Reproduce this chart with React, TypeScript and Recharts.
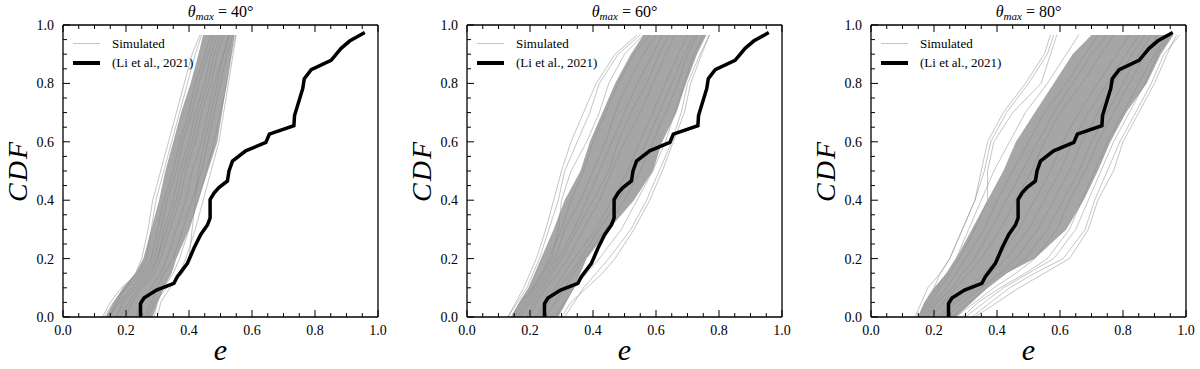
import React from "react";
import { ComposedChart, Line, Area, XAxis, YAxis } from "recharts";

// shared CDF levels at which the simulated curves are sampled
const CDF_LEVELS = [0, 0.05, 0.1, 0.15, 0.2, 0.3, 0.4, 0.5, 0.6, 0.7, 0.8, 0.9, 0.966];
const TICKS = [0, 0.05, 0.1, 0.15, 0.2, 0.25, 0.3, 0.35, 0.4, 0.45, 0.5, 0.55, 0.6, 0.65, 0.7, 0.75, 0.8, 0.85, 0.9, 0.95, 1];
const THETA_MAX = [40, 60, 80];

// observed sample (Li et al., 2021)
const OBS_E = [0.246, 0.246, 0.257, 0.297, 0.352, 0.363, 0.395, 0.416, 0.437, 0.459, 0.467, 0.467, 0.48, 0.495, 0.522, 0.527, 0.538, 0.58, 0.644, 0.655, 0.733, 0.735, 0.761, 0.766, 0.788, 0.851, 0.883, 0.91, 0.958];
const OBS_CDF = [0, 0.046, 0.065, 0.092, 0.115, 0.138, 0.184, 0.236, 0.282, 0.316, 0.339, 0.402, 0.425, 0.443, 0.466, 0.5, 0.534, 0.569, 0.598, 0.626, 0.655, 0.69, 0.782, 0.816, 0.847, 0.879, 0.92, 0.945, 0.974];

// dense core of the simulated curves (e range at each CDF level)
const CORE_LO_40 = [0.135, 0.16, 0.19, 0.23, 0.255, 0.28, 0.305, 0.325, 0.35, 0.375, 0.405, 0.43, 0.445];
const CORE_HI_40 = [0.285, 0.3, 0.32, 0.345, 0.36, 0.4, 0.43, 0.46, 0.49, 0.505, 0.52, 0.535, 0.545];
const CORE_LO_60 = [0.14, 0.165, 0.195, 0.215, 0.235, 0.275, 0.31, 0.36, 0.39, 0.43, 0.47, 0.52, 0.56];
const CORE_HI_60 = [0.29, 0.315, 0.34, 0.36, 0.38, 0.45, 0.53, 0.59, 0.62, 0.665, 0.695, 0.73, 0.76];
const CORE_LO_80 = [0.15, 0.17, 0.2, 0.24, 0.27, 0.32, 0.37, 0.42, 0.46, 0.52, 0.58, 0.64, 0.7];
const CORE_HI_80 = [0.27, 0.32, 0.37, 0.43, 0.52, 0.62, 0.675, 0.72, 0.76, 0.81, 0.875, 0.92, 0.96];

// individual simulated curves (e at each CDF level)
const SIM_40 = [
  [0.125, 0.15, 0.185, 0.24, 0.265, 0.28, 0.295, 0.32, 0.345, 0.37, 0.395, 0.42, 0.44],
  [0.15, 0.17, 0.2, 0.25, 0.28, 0.3, 0.32, 0.35, 0.37, 0.4, 0.42, 0.45, 0.47],
  [0.17, 0.19, 0.23, 0.27, 0.3, 0.32, 0.35, 0.37, 0.4, 0.42, 0.45, 0.47, 0.49],
  [0.2, 0.22, 0.25, 0.29, 0.31, 0.34, 0.37, 0.39, 0.42, 0.44, 0.47, 0.49, 0.51],
  [0.23, 0.25, 0.28, 0.31, 0.33, 0.36, 0.39, 0.41, 0.44, 0.46, 0.48, 0.51, 0.53],
  [0.26, 0.28, 0.3, 0.32, 0.35, 0.38, 0.41, 0.44, 0.46, 0.48, 0.5, 0.52, 0.54],
  [0.29, 0.3, 0.32, 0.35, 0.37, 0.4, 0.43, 0.455, 0.48, 0.5, 0.52, 0.535, 0.548],
  [0.14, 0.18, 0.22, 0.26, 0.29, 0.31, 0.33, 0.36, 0.38, 0.41, 0.43, 0.46, 0.48],
  [0.27, 0.29, 0.33, 0.38, 0.4, 0.41, 0.42, 0.43, 0.45, 0.47, 0.49, 0.51, 0.525],
  [0.18, 0.21, 0.24, 0.28, 0.3, 0.33, 0.36, 0.38, 0.41, 0.43, 0.46, 0.48, 0.5],
  [0.3, 0.31, 0.34, 0.37, 0.39, 0.42, 0.445, 0.47, 0.495, 0.51, 0.525, 0.54, 0.55],
  [0.13, 0.16, 0.2, 0.23, 0.25, 0.27, 0.285, 0.31, 0.335, 0.36, 0.385, 0.41, 0.435],
];
const SIM_60 = [
  [0.13, 0.16, 0.19, 0.21, 0.23, 0.26, 0.29, 0.31, 0.35, 0.39, 0.42, 0.48, 0.55],
  [0.15, 0.18, 0.21, 0.24, 0.26, 0.3, 0.33, 0.37, 0.4, 0.44, 0.48, 0.53, 0.58],
  [0.17, 0.2, 0.23, 0.26, 0.29, 0.34, 0.38, 0.42, 0.46, 0.5, 0.54, 0.59, 0.62],
  [0.2, 0.22, 0.25, 0.29, 0.32, 0.37, 0.42, 0.46, 0.5, 0.55, 0.59, 0.63, 0.66],
  [0.22, 0.25, 0.28, 0.31, 0.34, 0.41, 0.46, 0.51, 0.55, 0.59, 0.63, 0.67, 0.7],
  [0.25, 0.28, 0.31, 0.34, 0.37, 0.44, 0.5, 0.55, 0.59, 0.63, 0.67, 0.7, 0.73],
  [0.28, 0.31, 0.34, 0.38, 0.42, 0.49, 0.54, 0.59, 0.63, 0.66, 0.69, 0.72, 0.75],
  [0.31, 0.34, 0.37, 0.41, 0.45, 0.52, 0.57, 0.61, 0.65, 0.68, 0.7, 0.74, 0.77],
  [0.16, 0.19, 0.22, 0.25, 0.28, 0.31, 0.36, 0.4, 0.44, 0.47, 0.51, 0.56, 0.6],
  [0.19, 0.21, 0.24, 0.27, 0.3, 0.35, 0.4, 0.45, 0.48, 0.52, 0.57, 0.61, 0.64],
  [0.23, 0.26, 0.29, 0.33, 0.36, 0.42, 0.48, 0.53, 0.57, 0.61, 0.65, 0.69, 0.72],
  [0.14, 0.17, 0.21, 0.24, 0.27, 0.29, 0.3, 0.33, 0.38, 0.42, 0.45, 0.5, 0.56],
  [0.3, 0.33, 0.38, 0.43, 0.47, 0.53, 0.58, 0.62, 0.655, 0.69, 0.71, 0.745, 0.77],
  [0.13, 0.155, 0.18, 0.2, 0.22, 0.25, 0.275, 0.3, 0.33, 0.37, 0.41, 0.47, 0.54],
];
const SIM_80 = [
  [0.14, 0.16, 0.18, 0.22, 0.25, 0.29, 0.33, 0.36, 0.38, 0.43, 0.5, 0.56, 0.58],
  [0.15, 0.18, 0.21, 0.24, 0.27, 0.31, 0.35, 0.39, 0.44, 0.49, 0.56, 0.62, 0.66],
  [0.17, 0.2, 0.24, 0.27, 0.3, 0.36, 0.4, 0.45, 0.5, 0.55, 0.62, 0.68, 0.72],
  [0.19, 0.23, 0.27, 0.31, 0.35, 0.41, 0.46, 0.51, 0.55, 0.6, 0.67, 0.73, 0.77],
  [0.21, 0.26, 0.31, 0.36, 0.4, 0.47, 0.52, 0.57, 0.61, 0.66, 0.72, 0.78, 0.82],
  [0.24, 0.29, 0.35, 0.41, 0.46, 0.53, 0.58, 0.63, 0.67, 0.72, 0.77, 0.83, 0.87],
  [0.27, 0.33, 0.39, 0.46, 0.52, 0.59, 0.63, 0.68, 0.72, 0.77, 0.82, 0.87, 0.91],
  [0.3, 0.36, 0.42, 0.5, 0.58, 0.65, 0.69, 0.73, 0.77, 0.82, 0.87, 0.91, 0.95],
  [0.32, 0.38, 0.44, 0.52, 0.61, 0.68, 0.71, 0.75, 0.79, 0.84, 0.89, 0.93, 0.98],
  [0.16, 0.19, 0.22, 0.25, 0.28, 0.33, 0.37, 0.37, 0.39, 0.45, 0.54, 0.57, 0.59],
  [0.18, 0.21, 0.26, 0.29, 0.33, 0.38, 0.43, 0.48, 0.53, 0.58, 0.64, 0.7, 0.75],
  [0.22, 0.27, 0.33, 0.38, 0.43, 0.5, 0.55, 0.6, 0.64, 0.69, 0.75, 0.81, 0.85],
  [0.26, 0.31, 0.37, 0.43, 0.49, 0.56, 0.61, 0.66, 0.7, 0.75, 0.8, 0.85, 0.89],
  [0.29, 0.34, 0.41, 0.49, 0.56, 0.63, 0.67, 0.71, 0.75, 0.8, 0.85, 0.9, 0.94],
  [0.33, 0.4, 0.47, 0.55, 0.63, 0.69, 0.72, 0.77, 0.8, 0.85, 0.9, 0.94, 0.97],
  [0.15, 0.17, 0.2, 0.22, 0.25, 0.29, 0.33, 0.35, 0.37, 0.42, 0.49, 0.55, 0.57],
];

const SERIF = "'Liberation Serif', 'DejaVu Serif', serif";
const ML = 60;
const MR = 10;
const PW = 315;
const PH = 292;
const TOP = 25;
const H = 369;

const isMajor = (v: number) => Math.abs(v * 5 - Math.round(v * 5)) < 1e-6;

const makeTick = (side: "bottom" | "top" | "left" | "right") => (props: any) => {
  const { x, y, payload } = props;
  const v = payload.value as number;
  const len = isMajor(v) ? 7 : 4;
  if (side === "bottom") {
    return (
      <g>
        <line x1={x} y1={y} x2={x} y2={y - len} stroke="#000" strokeWidth={1} />
        {isMajor(v) && (
          <text x={x} y={y + 18} textAnchor="middle" fontFamily={SERIF} fontSize={14} fill="#000">
            {v.toFixed(1)}
          </text>
        )}
      </g>
    );
  }
  if (side === "top") {
    return <line x1={x} y1={y} x2={x} y2={y + len} stroke="#000" strokeWidth={1} />;
  }
  if (side === "left") {
    return (
      <g>
        <line x1={x} y1={y} x2={x + len} y2={y} stroke="#000" strokeWidth={1} />
        {isMajor(v) && (
          <text x={x - 9} y={y + 5} textAnchor="end" fontFamily={SERIF} fontSize={14} fill="#000">
            {v.toFixed(1)}
          </text>
        )}
      </g>
    );
  }
  return <line x1={x} y1={y} x2={x - len} y2={y} stroke="#000" strokeWidth={1} />;
};

const frame = { stroke: "#000", strokeWidth: 1.3 };

function Panel({
  left,
  theta,
  coreLo,
  coreHi,
  sims,
}: {
  left: number;
  theta: number;
  coreLo: number[];
  coreHi: number[];
  sims: number[][];
}) {
  const coreData = CDF_LEVELS.map((c, i) => ({ cdf: c, band: [coreLo[i], coreHi[i]] }));
  const obsData = OBS_CDF.map((c, i) => ({ cdf: c, e: OBS_E[i] }));

  return (
    <div style={{ position: "absolute", left: left - ML, top: 0, width: ML + PW + MR, height: H }}>
      <ComposedChart
        layout="vertical"
        width={ML + PW + MR}
        height={H}
        margin={{ top: TOP - 1, right: MR - 1, bottom: H - TOP - PH - 1, left: ML - 1 }}
      >
        <XAxis
          type="number"
          domain={[0, 1]}
          allowDataOverflow
          ticks={TICKS}
          interval={0}
          height={1}
          tickSize={0}
          tickMargin={0}
          tickLine={false}
          axisLine={frame}
          tick={makeTick("bottom")}
        />
        <XAxis
          xAxisId="top"
          orientation="top"
          type="number"
          domain={[0, 1]}
          allowDataOverflow
          ticks={TICKS}
          interval={0}
          height={1}
          tickSize={0}
          tickMargin={0}
          tickLine={false}
          axisLine={frame}
          tick={makeTick("top")}
        />
        <YAxis
          type="number"
          dataKey="cdf"
          domain={[0, 1]}
          reversed
          allowDataOverflow
          ticks={TICKS}
          interval={0}
          width={1}
          tickSize={0}
          tickMargin={0}
          tickLine={false}
          axisLine={frame}
          tick={makeTick("left")}
        />
        <YAxis
          yAxisId="right"
          orientation="right"
          type="number"
          domain={[0, 1]}
          reversed
          allowDataOverflow
          ticks={TICKS}
          interval={0}
          width={1}
          tickSize={0}
          tickMargin={0}
          tickLine={false}
          axisLine={frame}
          tick={makeTick("right")}
        />
        <Area
          data={coreData}
          dataKey="band"
          type="linear"
          fill="#a6a6a6"
          fillOpacity={1}
          stroke="none"
          isAnimationActive={false}
        />
        {sims.map((s, k) => (
          <Line
            key={k}
            data={CDF_LEVELS.map((c, i) => ({ cdf: c, e: s[i] }))}
            dataKey="e"
            type="linear"
            stroke="#8a8a8a"
            strokeOpacity={0.5}
            strokeWidth={1}
            dot={false}
            activeDot={false}
            isAnimationActive={false}
          />
        ))}
        <Line
          data={obsData}
          dataKey="e"
          type="linear"
          stroke="#000"
          strokeWidth={3.5}
          dot={false}
          activeDot={false}
          isAnimationActive={false}
        />
      </ComposedChart>

      {/* title */}
      <div
        style={{
          position: "absolute",
          left: ML,
          width: PW,
          top: 3,
          textAlign: "center",
          fontFamily: SERIF,
          fontSize: 16,
          lineHeight: "18px",
          whiteSpace: "nowrap",
        }}
      >
        <i>θ</i>
        <i style={{ fontSize: 11, position: "relative", top: 3 }}>max</i>
        {` = ${theta}°`}
      </div>

      {/* legend */}
      <div style={{ position: "absolute", left: ML + 10, top: 34, fontFamily: SERIF, fontSize: 13 }}>
        <div style={{ display: "flex", alignItems: "center", height: 19 }}>
          <div style={{ width: 27, height: 1, background: "#c4c4c4" }} />
          <span style={{ marginLeft: 12 }}>Simulated</span>
        </div>
        <div style={{ display: "flex", alignItems: "center", height: 19 }}>
          <div style={{ width: 27, height: 4, background: "#000" }} />
          <span style={{ marginLeft: 12 }}>(Li et al., 2021)</span>
        </div>
      </div>

      {/* y label */}
      <div
        style={{
          position: "absolute",
          left: ML - 45 - 50,
          top: TOP + PH / 2 - 16,
          width: 100,
          height: 32,
          lineHeight: "32px",
          textAlign: "center",
          fontFamily: SERIF,
          fontStyle: "italic",
          fontSize: 28,
          letterSpacing: 2,
          transform: "rotate(-90deg)",
        }}
      >
        CDF
      </div>

      {/* x label */}
      <div
        style={{
          position: "absolute",
          left: ML,
          width: PW,
          top: 336,
          lineHeight: "28px",
          textAlign: "center",
          fontFamily: SERIF,
          fontStyle: "italic",
          fontSize: 30,
        }}
      >
        e
      </div>
    </div>
  );
}

const PLOT_LEFTS = [63, 467, 871];
const CORES_LO = [CORE_LO_40, CORE_LO_60, CORE_LO_80];
const CORES_HI = [CORE_HI_40, CORE_HI_60, CORE_HI_80];
const SIMS = [SIM_40, SIM_60, SIM_80];

export default function App() {
  return (
    <div style={{ position: "relative", width: 1200, height: H, background: "#fff", overflow: "hidden" }}>
      <style>{`body{margin:0}`}</style>
      {THETA_MAX.map((t, i) => (
        <Panel
          key={t}
          left={PLOT_LEFTS[i]}
          theta={t}
          coreLo={CORES_LO[i]}
          coreHi={CORES_HI[i]}
          sims={SIMS[i]}
        />
      ))}
    </div>
  );
}
